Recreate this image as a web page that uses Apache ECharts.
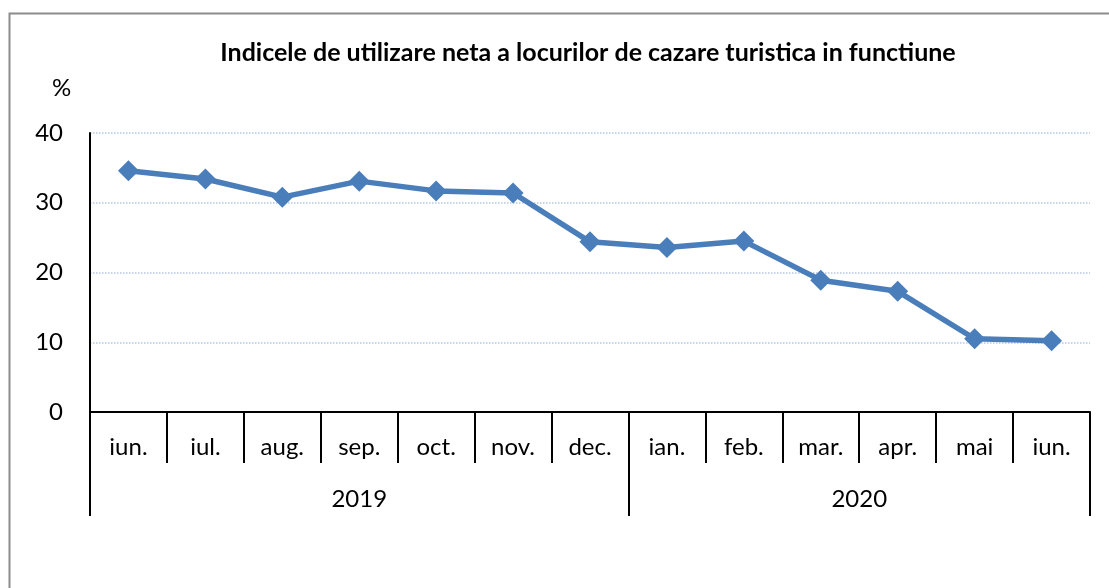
<!DOCTYPE html>
<html>
<head>
<meta charset="utf-8">
<script src="https://cdn.jsdelivr.net/npm/echarts@6/dist/echarts.min.js"></script>
<style>
    html, body { margin: 0; padding: 0; background: #fff; }
    #chart { width: 1109px; height: 588px; }
</style>
</head>
<body>
<div id="chart"></div>
<script>
// luni si valori (%)
var months = ['iun.', 'iul.', 'aug.', 'sep.', 'oct.', 'nov.', 'dec.', 'ian.', 'feb.', 'mar.', 'apr.', 'mai', 'iun.'];
var values = [34.6, 33.4, 30.8, 33.1, 31.7, 31.4, 24.4, 23.6, 24.5, 18.9, 17.3, 10.5, 10.2];
var years = ['2019', '2020'];
var yearSpans = [7, 6];
var yTicks = [0, 10, 20, 30, 40];

(function() {
    var FONT = 'Lato';

    // axa anilor: jumatati de luna, etichete la mijlocul fiecarui an
    var buildYearAxis = function() {
        var data = [];
        var labelIdx = {};
        var tickIdx = { 0: true };
        var pos = 0;
        var total = 0;
        for (var i = 0; i < yearSpans.length; i++) total += yearSpans[i];
        for (var i = 0; i <= total * 2; i++) data.push('');
        for (var i = 0; i < years.length; i++) {
            var mid = pos * 2 + yearSpans[i];
            data[mid] = years[i];
            labelIdx[mid] = true;
            pos += yearSpans[i];
            tickIdx[pos * 2] = true;
        }
        return { data: data, labelIdx: labelIdx, tickIdx: tickIdx };
    };

    var render = function() {
        var yearAxis = buildYearAxis();
        var echart = echarts.init(document.getElementById('chart'));
        var option = {
            animation: false,
            textStyle: { fontFamily: FONT },
            title: {
                text: 'Indicele de utilizare neta a locurilor de cazare turistica in functiune',
                left: 583,
                textAlign: 'center',
                top: 35,
                textStyle: { fontSize: 25, fontWeight: 'bold', color: '#000', fontFamily: FONT }
            },
            graphic: [{
                type: 'rect',
                shape: { x: 9.5, y: 13.5, width: 1300, height: 800 },
                style: { fill: 'none', stroke: '#8c8c8c', lineWidth: 2 }
            }, {
                type: 'text',
                left: 52,
                top: 76,
                style: { text: '%', font: '24px ' + FONT, fill: '#000' }
            }],
            grid: {
                left: 90,
                right: 19,
                top: 133,
                bottom: 176
            },
            xAxis: [{
                type: 'category',
                data: months,
                boundaryGap: true,
                axisLine: { show: true, lineStyle: { color: '#000', width: 2 } },
                axisTick: { show: true, length: 51, lineStyle: { color: '#000', width: 2 } },
                axisLabel: { color: '#000', fontSize: 24, margin: 23, interval: 0 }
            }, {
                type: 'category',
                position: 'bottom',
                data: yearAxis.data,
                boundaryGap: false,
                axisLine: { show: false },
                axisTick: {
                    show: true,
                    length: 104,
                    interval: function(idx) { return !!yearAxis.tickIdx[idx]; },
                    lineStyle: { color: '#000', width: 2 }
                },
                axisLabel: {
                    color: '#000',
                    fontSize: 24,
                    margin: 75,
                    interval: function(idx) { return !!yearAxis.labelIdx[idx]; }
                }
            }],
            yAxis: {
                type: 'value',
                min: yTicks[0],
                max: yTicks[yTicks.length - 1],
                interval: yTicks[1] - yTicks[0],
                axisLine: { show: true, lineStyle: { color: '#000', width: 2 } },
                axisTick: { show: false },
                splitLine: { show: true, lineStyle: { color: '#b4c7e7', type: 'dotted', width: 1.5 } },
                axisLabel: { color: '#000', fontSize: 24, margin: 27 }
            },
            series: [{
                type: 'line',
                data: values,
                xAxisIndex: 0,
                symbol: 'diamond',
                symbolSize: 21,
                lineStyle: { color: '#4a7ebb', width: 5.5 },
                itemStyle: { color: '#4a7ebb' }
            }]
        };
        echart.setOption(option);
    };

    render();
})();
</script>
</body>
</html>
